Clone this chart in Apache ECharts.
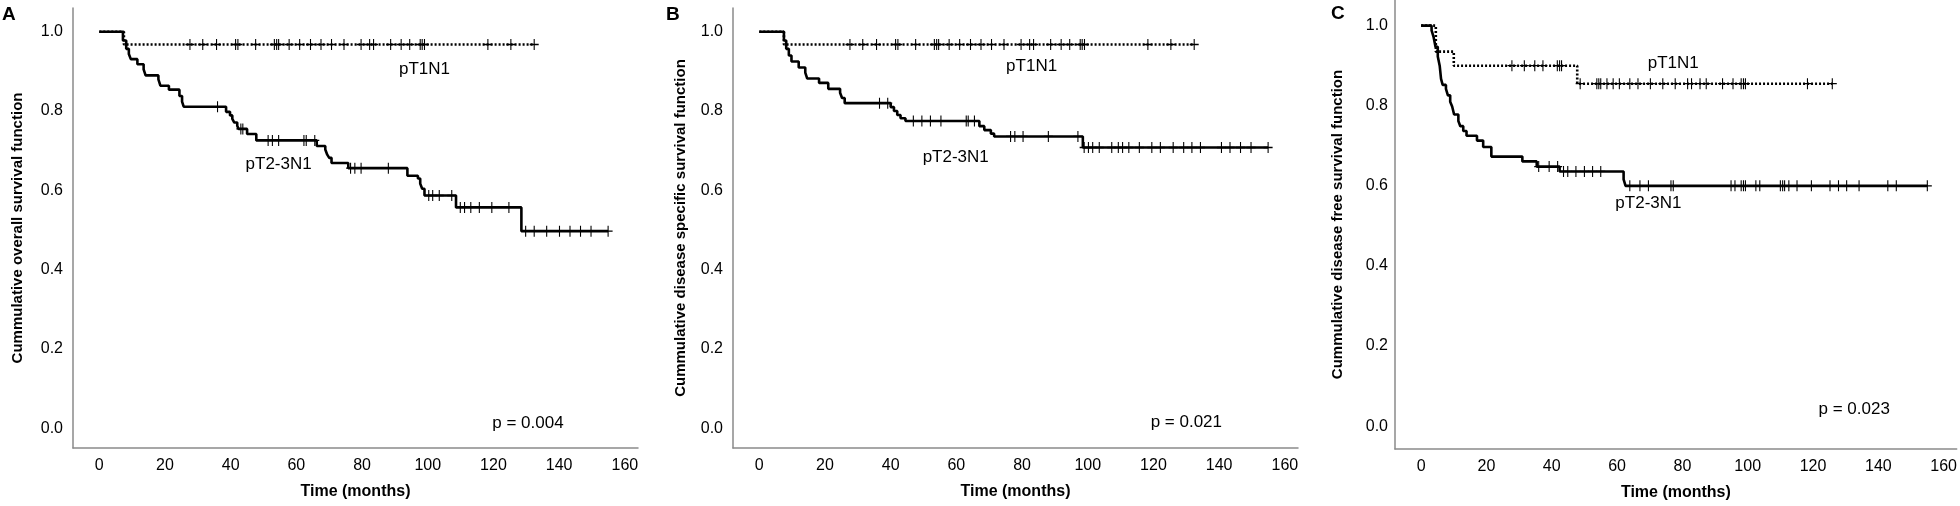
<!DOCTYPE html>
<html>
<head>
<meta charset="utf-8">
<script src="https://cdn.jsdelivr.net/npm/echarts@6/dist/echarts.min.js"></script>
<style>
html,body{margin:0;padding:0;background:#fff;}
#chart{width:1960px;height:506px;}
</style>
</head>
<body>
<div id="chart"></div>
<script>
// ---------- DATA ----------
const xTicks = [0, 20, 40, 60, 80, 100, 120, 140, 160];
const yTicks = [0.0, 0.2, 0.4, 0.6, 0.8, 1.0];
const panelLetters = ['A', 'B', 'C'];
const yTitles = ['Cummulative overall survival function',
                 'Cummulative disease specific survival function',
                 'Cummulative disease free survival function'];
const xTitle = 'Time (months)';
const groupNames = ['pT1N1', 'pT2-3N1'];
const pValues = ['p = 0.004', 'p = 0.021', 'p = 0.023'];

// Panel A – overall survival: [time, survival] at each step
const osT1Steps = [[0,1.0],[7.5,0.968],[132.4,0.968]];
const osT1Censor = [27.6,31.5,35.7,41.5,42.2,47.6,53.3,54.0,54.6,57.8,61.0,64.3,67.5,70.7,74.5,79.7,82.3,83.5,88.7,91.9,94.5,97.7,98.3,99.0,118.3,125.3,132.4];
const osT23Steps = [[0,1.0],[7.2,0.978],[8.2,0.957],[9.0,0.944],[9.6,0.931],[11.6,0.918],[13.5,0.905],[14.1,0.890],[18.0,0.880],[18.6,0.864],[21.2,0.854],[24.4,0.838],[25.2,0.824],[25.7,0.811],[38.6,0.798],[39.8,0.789],[40.5,0.780],[41.1,0.771],[42.0,0.763],[42.4,0.755],[45.0,0.742],[47.8,0.726],[66.2,0.712],[68.8,0.703],[69.4,0.690],[70.0,0.682],[70.7,0.669],[75.8,0.656],[93.8,0.637],[97.0,0.630],[97.7,0.617],[98.3,0.604],[99.0,0.587],[108.6,0.557],[128.5,0.497],[154.9,0.497]];
const osT23Censor = [36.0,43.1,43.7,51.4,52.7,54.6,62.3,63.0,65.6,76.5,77.8,79.7,88.0,100.3,101.5,103.5,107.3,109.9,111.2,113.1,115.7,119.5,124.7,129.8,132.4,136.2,140.1,143.3,146.5,149.7,154.9];

// Panel B – disease specific survival
const dssT1Steps = [[0,1.0],[7.5,0.968],[132.4,0.968]];
const dssT1Censor = [27.6,31.5,35.7,41.5,42.2,47.6,53.3,54.0,54.6,57.8,61.0,64.3,67.5,70.7,74.5,79.7,82.3,83.5,88.7,91.9,94.5,97.7,98.3,99.0,118.3,125.3,132.4];
const dssT23Steps = [[0,1.0],[7.5,0.978],[8.2,0.957],[9.0,0.940],[9.8,0.925],[12.0,0.910],[14.0,0.897],[14.6,0.882],[18.2,0.871],[21.0,0.856],[24.6,0.846],[25.2,0.833],[26.0,0.820],[40.0,0.810],[41.0,0.800],[42.0,0.790],[43.0,0.782],[44.5,0.775],[67.0,0.762],[68.5,0.752],[70.5,0.743],[71.5,0.736],[98.5,0.708],[154.9,0.708]];
const dssT23Censor = [36.6,39.1,46.9,49.5,52.1,55.3,63.0,63.6,65.5,76.5,77.8,80.3,88.0,97.0,98.9,100.2,101.5,103.5,107.3,109.3,110.6,112.5,115.7,119.5,122.1,126.0,129.2,131.7,134.3,140.7,143.3,146.5,149.7,154.9];

// Panel C – disease free survival
const dfsT1Steps = [[0,1.0],[4.5,0.935],[10.0,0.900],[47.8,0.855],[125.9,0.855]];
const dfsT1Censor = [27.8,31.6,34.8,37.3,41.7,42.4,43.0,48.7,53.8,54.4,55.0,56.9,58.8,60.7,63.9,66.4,70.2,74.0,77.8,81.6,82.8,85.4,87.3,92.3,95.5,98.0,98.7,99.3,118.3,125.9];
const dfsT23Steps = [[0,1.0],[3.2,0.988],[3.8,0.972],[4.4,0.947],[5.1,0.923],[5.7,0.899],[6.1,0.867],[6.6,0.852],[7.6,0.842],[8.2,0.826],[8.9,0.810],[9.5,0.798],[10.1,0.778],[11.4,0.762],[12.0,0.749],[12.9,0.737],[13.9,0.725],[17.1,0.713],[19.0,0.697],[21.5,0.673],[31.0,0.661],[35.4,0.648],[42.4,0.636],[62.0,0.616],[62.6,0.600],[155.0,0.600]];
const dfsT23Censor = [36.0,39.2,41.8,43.6,44.9,47.4,50.0,52.5,55.0,63.9,67.0,69.6,76.5,77.2,94.9,96.1,98.0,98.7,99.3,102.5,103.7,110.0,110.7,111.3,112.6,115.1,119.5,125.2,127.8,130.3,134.1,142.9,145.5,155.0];

// label anchor points [time, survival] per panel: [pT1N1, pT2-3N1, p-value]
const labelPosA = [[99, 0.905], [54.6, 0.665], [130.5, 0.013]];
const labelPosB = [[82.9, 0.914], [59.8, 0.683], [130, 0.015]];
const labelPosC = [[77.2, 0.907], [69.6, 0.556], [132.6, 0.042]];

// ---------- BUILD ----------
const FONT = '"Liberation Sans", Arial, sans-serif';
const INK = '#000000';
const AXIS = '#8a8a8a';

const panels = [
  {t1: osT1Steps, t1c: osT1Censor, t23: osT23Steps, t23c: osT23Censor, lab: labelPosA},
  {t1: dssT1Steps, t1c: dssT1Censor, t23: dssT23Steps, t23c: dssT23Censor, lab: labelPosB},
  {t1: dfsT1Steps, t1c: dfsT1Censor, t23: dfsT23Steps, t23c: dfsT23Censor, lab: labelPosC}
];

const layout = [
  {left: 73, width: 565, top: 8, height: 440, ymin: -0.05, ymax: 1.06, ygap: 48, ymargin: 10, xgap: 36},
  {left: 733, width: 565, top: 8, height: 440, ymin: -0.05, ymax: 1.06, ygap: 45, ymargin: 10, xgap: 36},
  {left: 1395, width: 565, top: 0, height: 453, ymin: -0.057, ymax: 1.064, ygap: 50, ymargin: 7, xgap: 36}
];

function survAt(steps, t) {
  let s = steps[0][1];
  for (const p of steps) { if (p[0] <= t) s = p[1]; else break; }
  return s;
}

const plusSymbol = 'path://M4.4,0 L5.6,0 L5.6,4.4 L10,4.4 L10,5.6 L5.6,5.6 L5.6,10 L4.4,10 L4.4,5.6 L0,5.6 L0,4.4 L4.4,4.4 Z';

const grid = [], xAxis = [], yAxis = [], series = [], graphic = [];
layout.forEach((L, i) => {
  grid.push({left: L.left, top: L.top, width: L.width, height: L.height, containLabel: false});
  xAxis.push({
    type: 'value', gridIndex: i, min: -8, max: 164,
    name: xTitle, nameLocation: 'middle', nameGap: L.xgap,
    nameTextStyle: {fontFamily: FONT, fontSize: 16, fontWeight: 'bold', color: INK},
    axisLine: {show: true, onZero: false, lineStyle: {color: AXIS, width: 1.5}},
    axisTick: {show: false},
    splitLine: {show: false},
    axisLabel: {customValues: xTicks, margin: 10, fontFamily: FONT, fontSize: 16, color: INK}
  });
  yAxis.push({
    type: 'value', gridIndex: i, min: L.ymin, max: L.ymax,
    name: yTitles[i], nameLocation: 'middle', nameGap: L.ygap, nameRotate: 90,
    nameTextStyle: {fontFamily: FONT, fontSize: 15, fontWeight: 'bold', color: INK},
    axisLine: {show: true, onZero: false, lineStyle: {color: AXIS, width: 1.5}},
    axisTick: {show: false},
    splitLine: {show: false},
    axisLabel: {customValues: yTicks, margin: L.ymargin, fontFamily: FONT, fontSize: 16, color: INK,
                formatter: v => v.toFixed(1)}
  });
  const P = panels[i];
  series.push({
    type: 'line', xAxisIndex: i, yAxisIndex: i, step: 'end', data: P.t23, symbol: 'none',
    lineStyle: {color: INK, width: 2.6, type: 'solid'}, z: 3, silent: true
  });
  series.push({
    type: 'line', xAxisIndex: i, yAxisIndex: i, step: 'end', data: P.t1, symbol: 'none',
    lineStyle: {color: INK, width: 2.6, type: [2, 2]}, z: 4, silent: true
  });
  series.push({
    type: 'scatter', xAxisIndex: i, yAxisIndex: i, symbol: plusSymbol, symbolSize: [9, 11],
    itemStyle: {color: INK, opacity: 1}, z: 5, silent: true,
    data: P.t23c.map(t => [t, survAt(P.t23, t)])
  });
  series.push({
    type: 'scatter', xAxisIndex: i, yAxisIndex: i, symbol: plusSymbol, symbolSize: [9, 11],
    itemStyle: {color: INK, opacity: 1}, z: 5, silent: true,
    data: P.t1c.map(t => [t, survAt(P.t1, t)])
  });
  const texts = [groupNames[0], groupNames[1], pValues[i]];
  series.push({
    type: 'scatter', xAxisIndex: i, yAxisIndex: i, symbolSize: 1, z: 6, silent: true,
    itemStyle: {opacity: 0},
    data: P.lab.map((p, k) => ({value: p, name: texts[k]})),
    label: {show: true, position: 'inside', formatter: d => d.name, opacity: 1,
            fontFamily: FONT, fontSize: 17, color: INK, align: 'center', verticalAlign: 'middle'}
  });
});

graphic.push({type: 'text', left: 2, top: 5, style: {text: panelLetters[0], font: 'bold 19px ' + FONT, fill: INK}});
graphic.push({type: 'text', left: 666, top: 5, style: {text: panelLetters[1], font: 'bold 19px ' + FONT, fill: INK}});
graphic.push({type: 'text', left: 1331, top: 4, style: {text: panelLetters[2], font: 'bold 19px ' + FONT, fill: INK}});

const chart = echarts.init(document.getElementById('chart'), null, {renderer: 'canvas'});
chart.setOption({
  animation: false,
  backgroundColor: '#ffffff',
  grid, xAxis, yAxis, series, graphic
});
</script>
</body>
</html>
